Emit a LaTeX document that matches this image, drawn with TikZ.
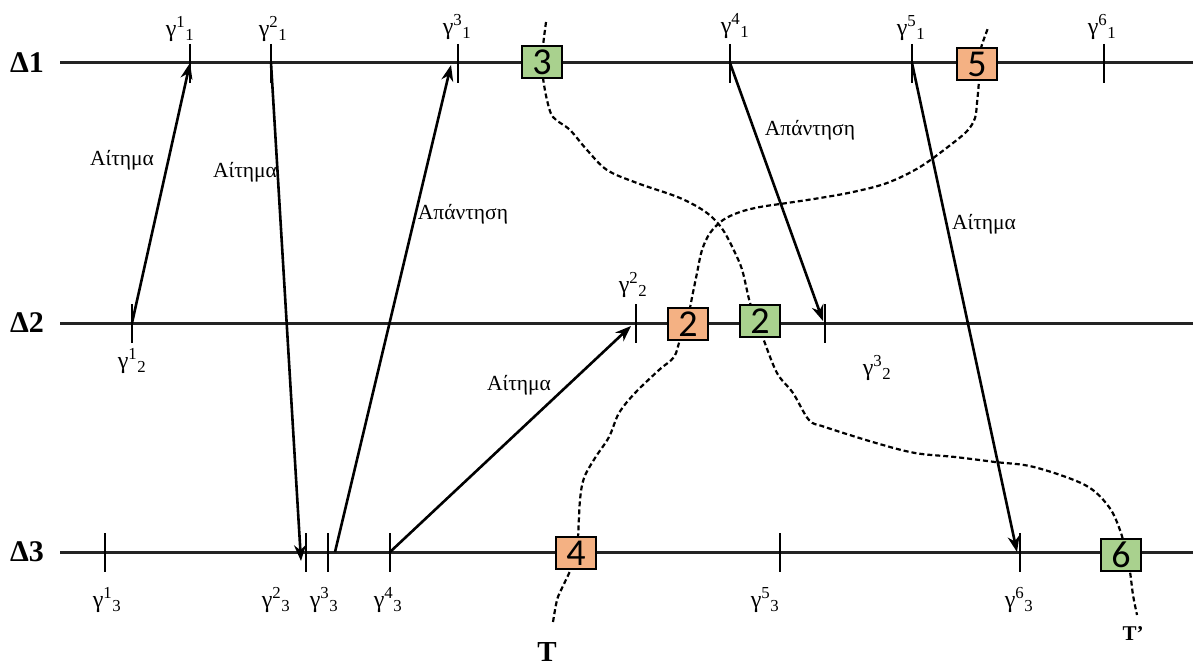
\documentclass[tikz,border=0pt]{standalone}
\usepackage{fontspec}
\setmainfont{Liberation Serif}
\newfontfamily\boxfont{Carlito}
\usetikzlibrary{arrows.meta}
\definecolor{boxgreen}{RGB}{169,209,142}
\definecolor{boxorange}{RGB}{244,177,131}
\definecolor{linegray}{RGB}{35,35,35}
\begin{document}
\begin{tikzpicture}[x=1pt,y=-1pt,
  timeline/.style={line width=3pt, draw=linegray},
  tickmark/.style={line width=2.6pt},
  msg/.style={line width=2.6pt, -{Stealth[length=16pt,width=12pt]}},
  cutline/.style={line width=2.2pt, dash pattern=on 5pt off 3pt},
  evbox/.style={draw, line width=2.2pt, minimum width=40pt, minimum height=32pt, inner sep=0pt, font=\boxfont\fontsize{38}{38}\selectfont},
  glabel/.style={font=\fontsize{24}{24}\selectfont, inner sep=0pt},
  mlabel/.style={font=\fontsize{21.5}{22}\selectfont, inner sep=0pt},
  plabel/.style={font=\bfseries\fontsize{30}{30}\selectfont, inner sep=0pt},
]
\useasboundingbox (0,0) rectangle (1193,666);

% process labels
\node[plabel] (D1) at (27,63) {Δ1};
\node[plabel] (D2) at (27,323) {Δ2};
\node[plabel] (D3) at (27,552) {Δ3};

% time lines
\coordinate (L1s) at (60,63);  \coordinate (L1e) at (1193,63);
\coordinate (L2s) at (60,323); \coordinate (L2e) at (1193,323);
\coordinate (L3s) at (60,552); \coordinate (L3e) at (1193,552);
\draw[timeline] (L1s) -- (L1e);
\draw[timeline] (L2s) -- (L2e);
\draw[timeline] (L3s) -- (L3e);

% events
\coordinate (g11) at (190,63);
\coordinate (g21) at (271,63);
\coordinate (g31) at (458,63);
\coordinate (g41) at (730,63);
\coordinate (g51) at (912,63);
\coordinate (g61) at (1104,63);
\coordinate (g12) at (132,323);
\coordinate (g22) at (636,323);
\coordinate (g32) at (825,323);
\coordinate (g13) at (105,552);
\coordinate (g23) at (306,552);
\coordinate (g33) at (328,552);
\coordinate (g43) at (390,552);
\coordinate (g53) at (780,552);
\coordinate (g63) at (1020,552);
\foreach \g in {g11,g21,g31,g41,g51,g61,g12,g22,g32,g13,g23,g33,g43,g53,g63}
  \draw[tickmark] ([yshift=19pt]\g) -- ([yshift=-20pt]\g);

% event labels
\node[glabel] (t11) at (180,29) {γ\textsuperscript{1}\textsubscript{1}};
\node[glabel] (t21) at (273,29) {γ\textsuperscript{2}\textsubscript{1}};
\node[glabel] (t31) at (457,27) {γ\textsuperscript{3}\textsubscript{1}};
\node[glabel] (t41) at (735,26) {γ\textsuperscript{4}\textsubscript{1}};
\node[glabel] (t51) at (911,28) {γ\textsuperscript{5}\textsubscript{1}};
\node[glabel] (t61) at (1102,27) {γ\textsuperscript{6}\textsubscript{1}};
\node[glabel] (t12) at (132,361) {γ\textsuperscript{1}\textsubscript{2}};
\node[glabel] (t22) at (633,285) {γ\textsuperscript{2}\textsubscript{2}};
\node[glabel] (t32) at (877,368) {γ\textsuperscript{3}\textsubscript{2}};
\node[glabel] (t13) at (107,600) {γ\textsuperscript{1}\textsubscript{3}};
\node[glabel] (t23) at (276,600) {γ\textsuperscript{2}\textsubscript{3}};
\node[glabel] (t33) at (324,600) {γ\textsuperscript{3}\textsubscript{3}};
\node[glabel] (t43) at (388,600) {γ\textsuperscript{4}\textsubscript{3}};
\node[glabel] (t53) at (765,600) {γ\textsuperscript{5}\textsubscript{3}};
\node[glabel] (t63) at (1019,600) {γ\textsuperscript{6}\textsubscript{3}};

% messages
\draw[msg] (g12) -- (g11);
\draw[msg] (g21) -- ([xshift=-5pt,yshift=-9pt]g23);
\draw[msg] ([xshift=7pt]g33) -- ([xshift=-7pt,yshift=-2pt]g31);
\draw[msg] (g43) -- ([xshift=-5pt,yshift=-3pt]g22);
\draw[msg] (g41) -- ([xshift=-2pt,yshift=2pt]g32);
\draw[msg] (g51) -- ([xshift=-3pt]g63);

\node[mlabel] (m1) at (122,160) {Αίτημα};
\node[mlabel] (m2) at (245,172) {Αίτημα};
\node[mlabel] (m3) at (463,214) {Απάντηση};
\node[mlabel] (m4) at (519,385) {Αίτημα};
\node[mlabel] (m5) at (810,130) {Απάντηση};
\node[mlabel] (m6) at (984,224) {Αίτημα};

% cuts
\draw[cutline] plot[smooth, tension=0.55] coordinates {
  (553,622) (557,600) (562,588) (570,571) (576,553) (578,537) (580,500) (584,478)
  (595,458) (609,437) (619,413) (635,393) (659,370) (674,357) (680,340) (688,324)
  (690,308) (697,273) (702,250) (710,233) (723,220) (740,212) (760,207) (787,203)
  (820,198) (853,192) (887,183) (920,167) (953,143) (968,130) (975,118) (977,103)
  (979,80) (979,64) (981,48) (988,28)};
\draw[cutline] plot[smooth, tension=0.55] coordinates {
  (546,22) (543,46) (542,62) (543,78) (547,100) (553,117) (570,130) (587,150)
  (607,170) (637,183) (680,198) (707,213) (723,230) (737,257) (743,273) (750,303)
  (757,321) (763,338) (777,373) (793,393) (809,420) (825,427) (876,443) (915,453)
  (955,457) (995,462) (1034,467) (1085,485) (1109,507) (1121,533) (1126,555)
  (1130,572) (1133,595) (1137,615)};

% boxes
\node[evbox, fill=boxgreen] (b3) at (542,62) {3};
\node[evbox, fill=boxorange] (b5) at (977,64) {5};
\node[evbox, fill=boxorange] (b2o) at (688,324) {2};
\node[evbox, fill=boxgreen] (b2g) at (760,321) {2};
\node[evbox, fill=boxorange] (b4) at (576,553) {4};
\node[evbox, fill=boxgreen] (b6) at (1121,555) {6};

% cut names
\node[font=\bfseries\fontsize{29}{29}\selectfont, inner sep=0pt] (T) at (547,652) {T};
\node[font=\bfseries\fontsize{21}{21}\selectfont, inner sep=0pt] (Tp) at (1133,634) {T’};
\end{tikzpicture}
\end{document}
